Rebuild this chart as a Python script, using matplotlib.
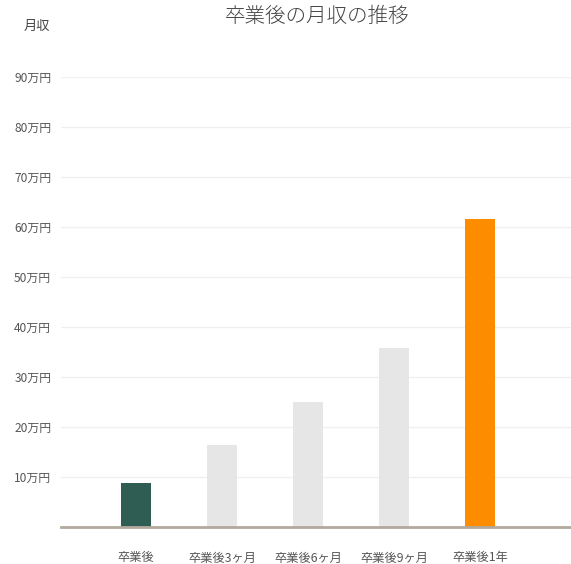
import matplotlib
matplotlib.use("Agg")
import matplotlib.pyplot as plt

plt.rcParams['font.family'] = ['Noto Sans CJK JP', 'DejaVu Sans']

categories = ["卒業後", "卒業後3ヶ月", "卒業後6ヶ月", "卒業後9ヶ月", "卒業後1年"]
values = [8.7, 16.4, 24.9, 35.8, 61.5]
colors = ["#2f5d54", "#e6e6e6", "#e6e6e6", "#e6e6e6", "#fd8c00"]
yticks = [10, 20, 30, 40, 50, 60, 70, 80, 90]
ytick_labels = ["10万円", "20万円", "30万円", "40万円", "50万円", "60万円", "70万円", "80万円", "90万円"]
title = "卒業後の月収の推移"
ylabel = "月収"

W, H = 571, 564
fig = plt.figure(figsize=(W / 100, H / 100), dpi=100)
ax = fig.add_axes([61 / W, 1 - 526.5 / H, 1 - 61 / W, (526.5 - 76.5) / H])

x = list(range(len(categories)))
ax.bar(x, values, width=0.35, color=colors, zorder=2)
ax.set_xlim(-0.872, 5.058)
ax.set_ylim(0, 90)

ax.set_yticks(yticks)
ax.set_yticklabels(ytick_labels, fontsize=8.6, color="#555555")
ax.set_xticks(x)
ax.set_xticklabels(categories, fontsize=8.8, color="#555555")
ax.tick_params(axis='y', length=0, pad=7)
ax.tick_params(axis='x', length=0, pad=18)
ax.grid(axis='y', color="#f0f0f0", linewidth=1, zorder=0)
ax.set_axisbelow(True)

for s in ['top', 'right', 'left']:
    ax.spines[s].set_visible(False)
ax.spines['bottom'].set_color("#b3a99d")
ax.spines['bottom'].set_linewidth(2.0)
ax.spines['bottom'].set_zorder(3)

fig.text(317 / W, 1 - 16 / H, title, ha='center', va='center', fontsize=14.8,
         color="#444444", fontweight='light')
fig.text(36.5 / W, 1 - 26 / H, ylabel, ha='center', va='center', fontsize=9.5,
         color="#444444")

fig.savefig("out.png", dpi=100)
